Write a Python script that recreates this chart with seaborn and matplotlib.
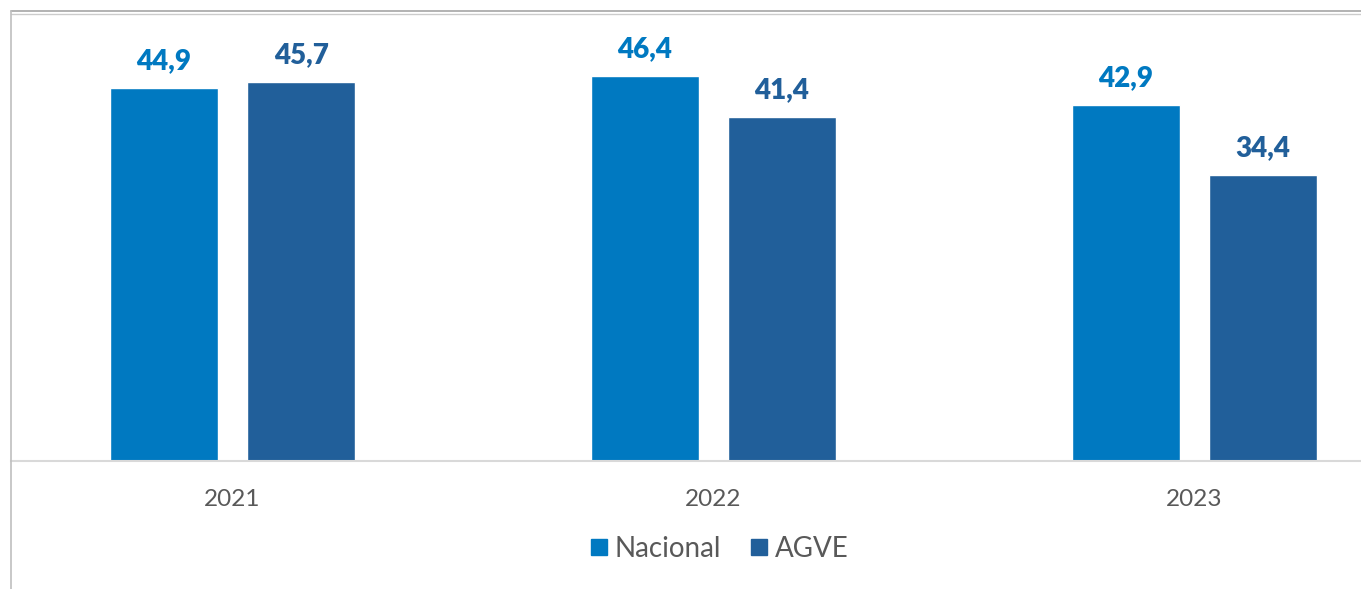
import pandas as pd
import seaborn as sns
import matplotlib.pyplot as plt
from matplotlib.lines import Line2D

# Data
years = ["2021", "2022", "2023"]
nacional = [44.9, 46.4, 42.9]
agve = [45.7, 41.4, 34.4]
series = ["Nacional", "AGVE"]

colors = {"Nacional": "#0079C1", "AGVE": "#215F9A"}

df = pd.DataFrame({
    "Año": years * 2,
    "Serie": ["Nacional"] * len(years) + ["AGVE"] * len(years),
    "Valor": nacional + agve,
})

sns.set_style("white")
plt.rcParams["font.family"] = ["Lato", "DejaVu Sans"]

fig = plt.figure(figsize=(13.61, 5.89), dpi=100)
ax = fig.add_axes([11 / 1361, 128 / 589, 1350 / 1361, 449 / 589])

sns.barplot(
    data=df, x="Año", y="Valor", hue="Serie",
    hue_order=series, palette=colors, saturation=1,
    width=0.57, gap=0.21, ax=ax, legend=False,
)

ax.set_xlim(-0.4605, 2.346)
ax.set_ylim(0, 54.1)

# value labels
for cont, name in zip(ax.containers, series):
    ax.bar_label(
        cont,
        labels=[f"{v:.1f}".replace(".", ",") for v in cont.datavalues],
        padding=10, fontsize=20, fontweight="heavy", color=colors[name],
    )

ax.set_xlabel("")
ax.set_ylabel("")
ax.set_yticks([])
ax.tick_params(axis="x", length=0, pad=20, labelsize=17.5, labelcolor="#595959")
for side in ["top", "right", "left"]:
    ax.spines[side].set_visible(False)
ax.spines["bottom"].set_color("#d9d9d9")
ax.spines["bottom"].set_linewidth(1.5)

# legend
handles = [Line2D([], [], marker="s", linestyle="", markersize=11,
                  color=colors[s]) for s in series]
fig.legend(handles, series, loc="center", bbox_to_anchor=(0.529, 0.068),
           ncol=2, frameon=False, fontsize=20, handlelength=0.55,
           handletextpad=0.3, columnspacing=1.1, labelcolor="#595959")

# outer frame lines
fig.add_artist(Line2D([11 / 1361, 1], [1 - 11 / 589] * 2, color="#a6a6a6", lw=1.2))
fig.add_artist(Line2D([11 / 1361, 1], [1 - 14 / 589] * 2, color="#cccccc", lw=1.0))
fig.add_artist(Line2D([11 / 1361] * 2, [0, 1 - 11 / 589], color="#bfbfbf", lw=1.2))

fig.savefig("out.png", dpi=100)
